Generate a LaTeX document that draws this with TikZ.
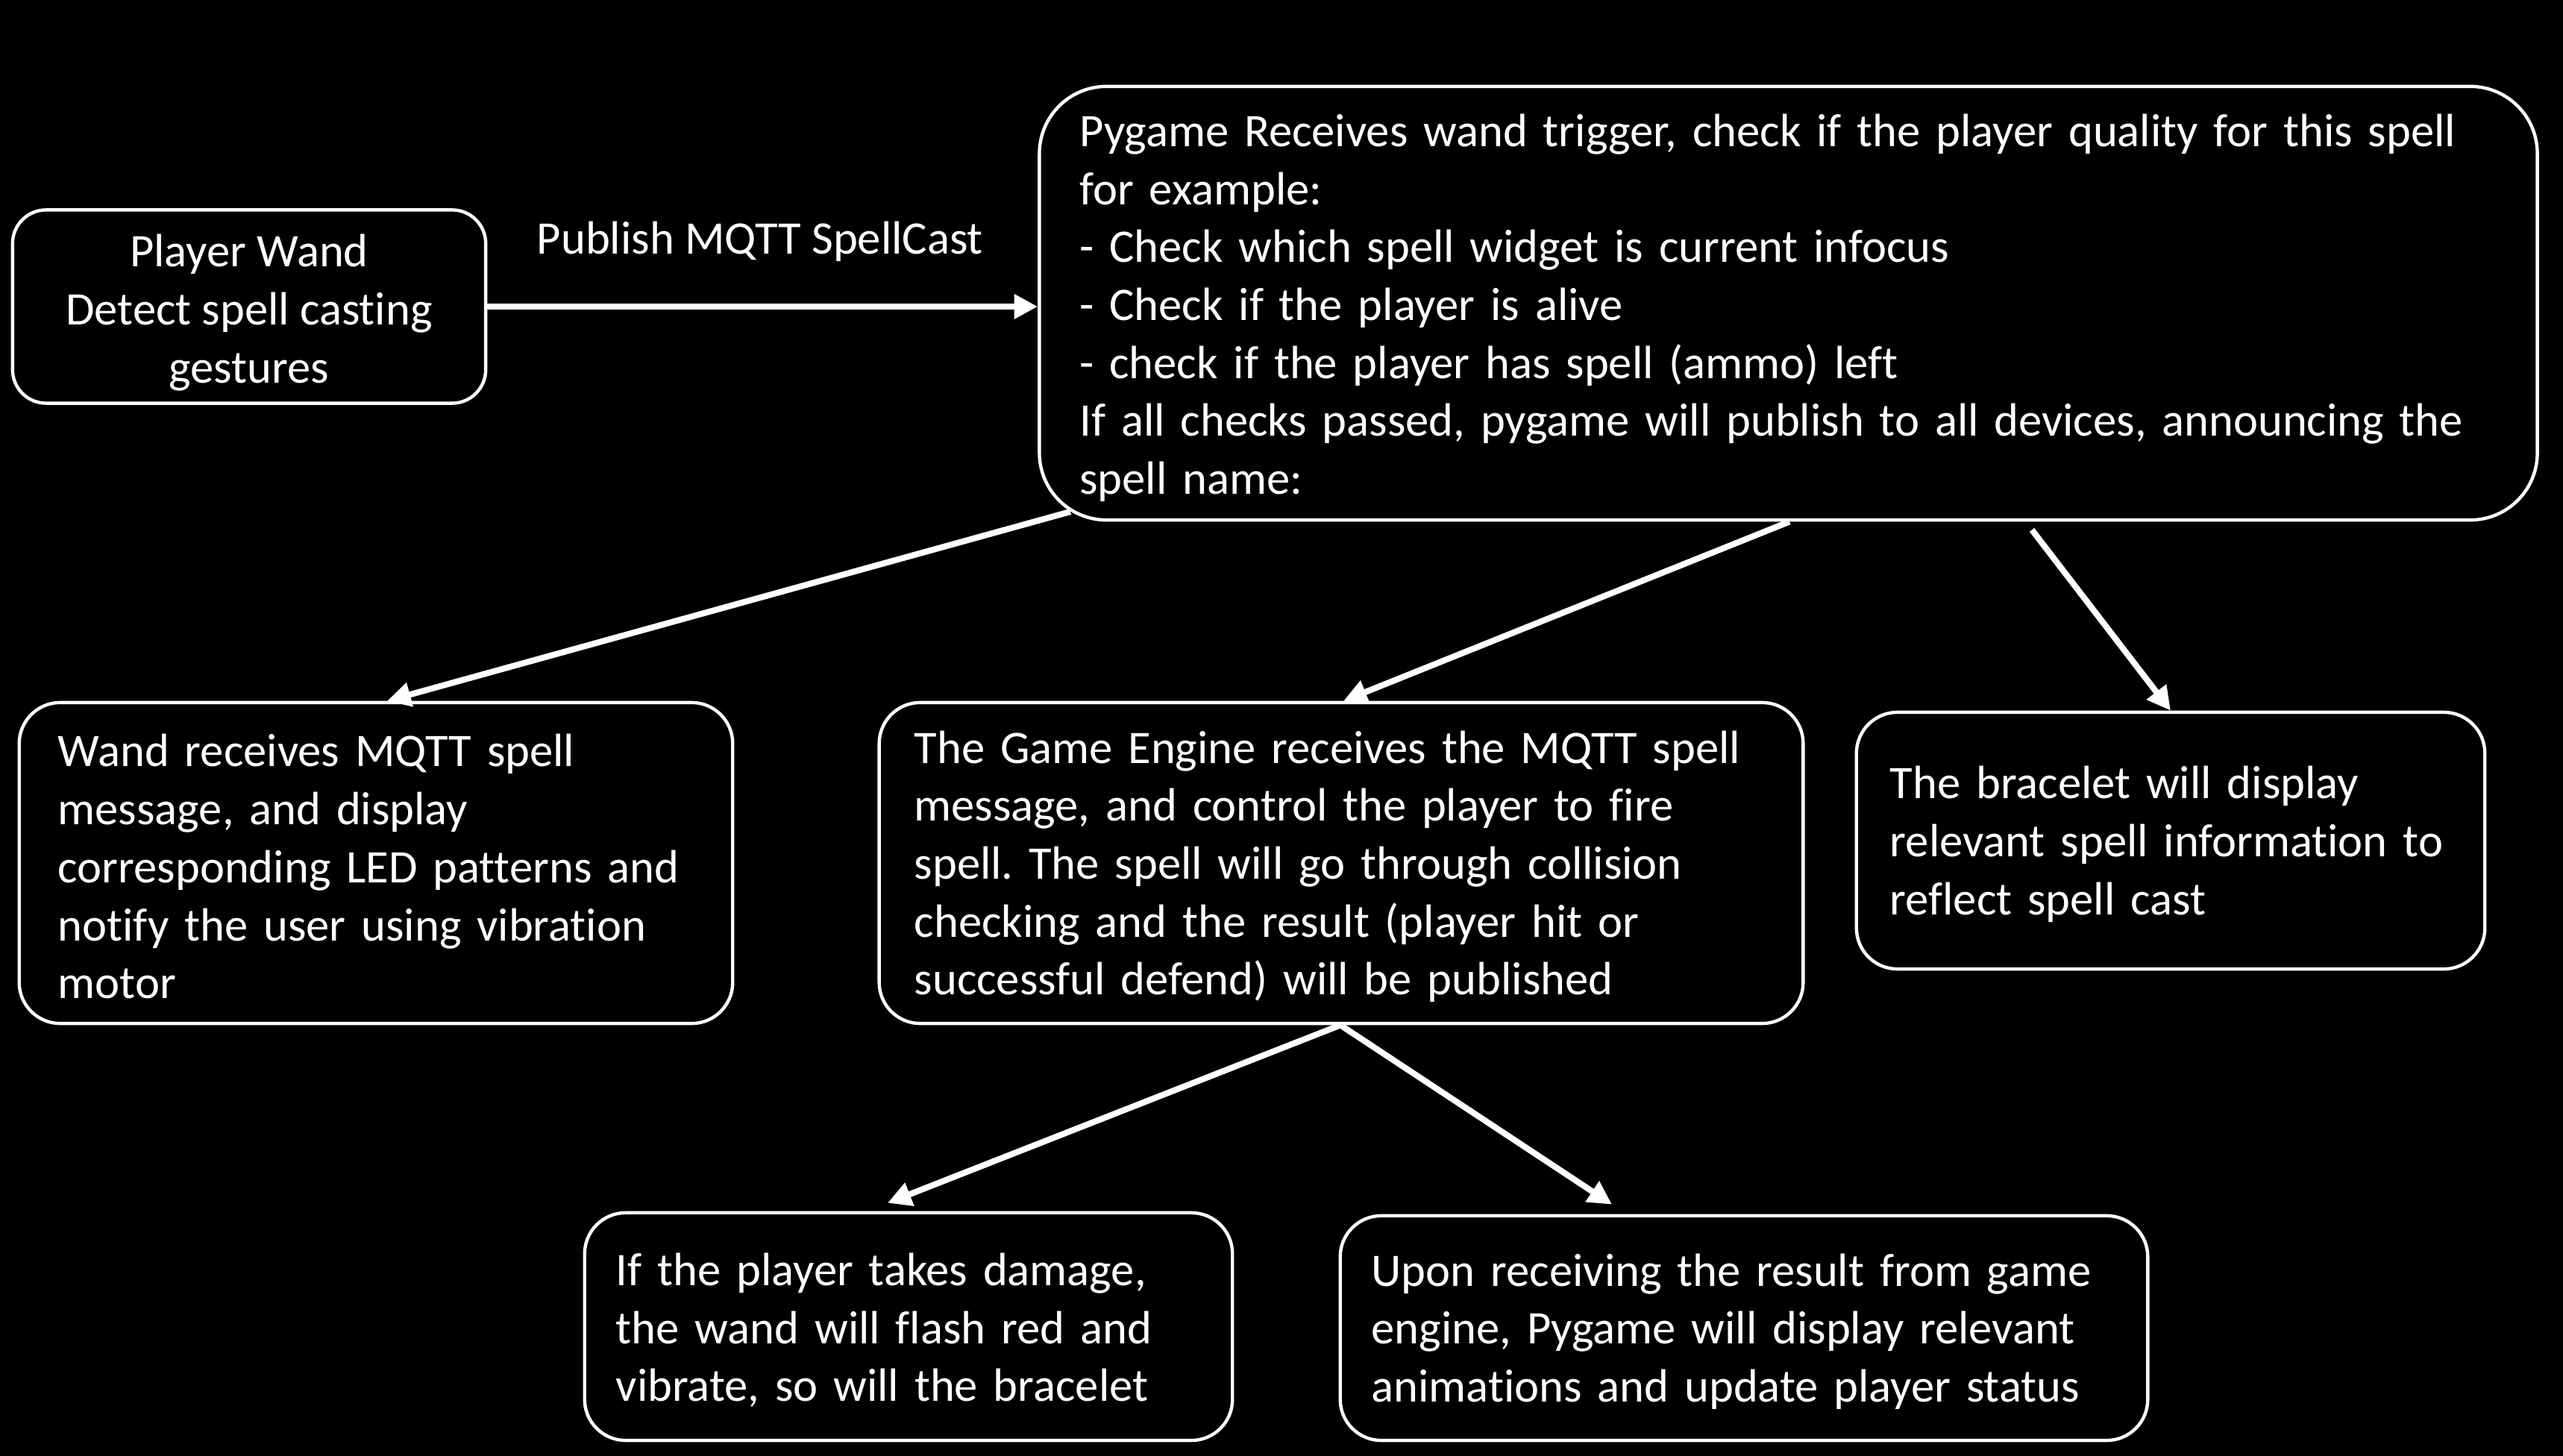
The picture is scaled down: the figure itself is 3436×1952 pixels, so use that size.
\documentclass[tikz,border=0pt]{standalone}
\usepackage{fontspec}
\setmainfont[Ligatures=NoCommon]{Carlito}
\frenchspacing
\usetikzlibrary{arrows.meta,calc}
\newcommand{\topstrut}{\rule{0pt}{0.53cm}}
\begin{document}
\begin{tikzpicture}[x=0.01cm,y=-0.01cm,
  box/.style={draw=white, line width=1.25pt, fill=black, text=white, rounded corners=0.55cm,
    inner xsep=0.52cm, inner ysep=0pt, align=left, font=\fontsize{17.8}{22.1}\selectfont\frenchspacing},
  arr/.style={draw=white, line width=2.3pt, -{Triangle[length=9pt,width=9pt]}},
  lbl/.style={text=white, font=\fontsize{17.8}{22.1}\selectfont}]
\useasboundingbox (0,0) rectangle (3436,1952);
\fill[black] (0,0) rectangle (3436,1952);

\node[box, align=center, rounded corners=0.45cm, minimum width=6.34cm, minimum height=2.59cm, inner xsep=0pt] (wand) at (334,411)
  {\rule{0pt}{0.6cm}Player Wand\\Detect spell casting\\gestures};

\node[box, rounded corners=0.9cm, inner xsep=0.54cm, minimum width=20.07cm, minimum height=5.81cm, text width=18.99cm] (pyg) at (2397.5,406.5)
  {\rule{0pt}{0.56cm}Pygame Receives wand trigger, check if the player quality for this spell\\
   for example:\\
   - Check which spell widget is current infocus\\
   - Check if the player is alive\\
   - check if the player has spell (ammo) left\\
   If all checks passed, pygame will publish to all devices, announcing the\\
   spell name:};

\node[box, minimum width=9.56cm, minimum height=4.30cm, text width=8.52cm] (wrx) at (504,1157)
  {\topstrut Wand receives MQTT spell\\message, and display\\corresponding LED patterns and\\notify the user using vibration\\motor};

\node[box, inner xsep=0.47cm, minimum width=12.38cm, minimum height=4.30cm, text width=11.44cm] (eng) at (1798,1157)
  {\topstrut The Game Engine receives the MQTT spell\\message, and control the player to fire\\spell. The spell will go through collision\\checking and the result (player hit or\\successful defend) will be published};

\node[box, inner xsep=0.45cm, minimum width=8.42cm, minimum height=3.44cm, text width=7.52cm] (brc) at (2910,1127)
  {\topstrut The bracelet will display\\relevant spell information to\\reflect spell cast};

\node[box, inner xsep=0.42cm, minimum width=8.68cm, minimum height=3.05cm, text width=7.84cm] (dmg) at (1218,1778.5)
  {\topstrut If the player takes damage,\\the wand will flash red and\\vibrate, so will the bracelet};

\node[box, inner xsep=0.42cm, minimum width=10.82cm, minimum height=3.01cm, text width=9.98cm] (upd) at (2338,1780.5)
  {\topstrut Upon receiving the result from game\\engine, Pygame will display relevant\\animations and update player status};

\node[lbl] (pub) at (1019,324) {Publish MQTT SpellCast};

\coordinate (a2s) at (1435,686);
\coordinate (x2e) at (519,0);
\coordinate (x3s) at (2399,0);
\coordinate (x3e) at (1801,0);
\coordinate (x4s) at (2724,0);
\coordinate (x4e) at (2910,0);
\coordinate (x5s) at (1797,0);
\coordinate (x5e) at (1190,0);
\coordinate (x6e) at (2161,0);

\draw[arr] (wand.east) -- (pyg.west |- wand.east);
\draw[arr] (a2s) -- (x2e |- wrx.north);
\draw[arr] (x3s |- pyg.south) -- (x3e |- eng.north);
\draw[arr] ([yshift=-0.11cm]x4s |- pyg.south) -- (x4e |- brc.north);
\draw[arr] (x5s |- eng.south) -- ([yshift=0.11cm]x5e |- dmg.north);
\draw[arr] (x5s |- eng.south) -- ([yshift=0.13cm]x6e |- upd.north);
\end{tikzpicture}
\end{document}
